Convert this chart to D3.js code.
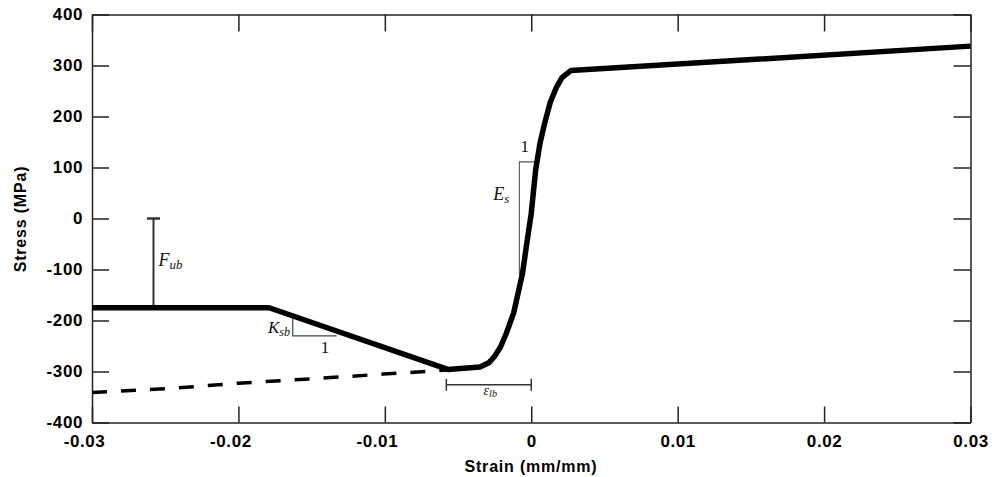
<!DOCTYPE html>
<html><head><meta charset="utf-8">
<script src="https://cdn.jsdelivr.net/npm/d3@7"></script>
<style>body{margin:0;background:#fff}svg{display:block}</style>
</head><body>
<svg id="c" width="992" height="477"></svg>
<script>
// ---- data ----
const xTicks = [-0.03, -0.02, -0.01, 0, 0.01, 0.02, 0.03];
const xTickLabels = ["-0.03", "-0.02", "-0.01", "0", "0.01", "0.02", "0.03"];
const yTicks = [-400, -300, -200, -100, 0, 100, 200, 300, 400];
const yTickLabels = ["-400", "-300", "-200", "-100", "0", "100", "200", "300", "400"];

const strainMain = [-0.03, -0.0179, -0.0057, -0.0035, -0.0029, -0.0025, -0.0021, -0.0017, -0.0012, -0.0006, -0.0003, 0.0000, 0.0003, 0.0006, 0.0009, 0.0013, 0.0017, 0.0021, 0.0027, 0.03];
const stressMain = [-175, -175, -296, -291, -283, -270, -252, -225, -185, -108, -48, 10, 95, 148, 185, 228, 256, 276, 290, 338];

const strainDash = [-0.03, -0.025, -0.02, -0.0137, -0.0101, -0.0071, -0.0058];
const stressDash = [-341, -334, -323, -312, -305, -300, -297];

// annotation anchors (strain, stress)
const fubLine = [[-0.0258, 0], [-0.0258, -175]];
const ksbTri = [[-0.01629, -191], [-0.01629, -230], [-0.0133, -230]];
const esTri = [[-0.00081, -111], [-0.00081, 111], [0.0004, 111]];
const elbBar = [[-0.0058, -326], [0.0, -326]];

// ---- layout ----
const svg = d3.select("#c");
const x = d3.scaleLinear().domain([-0.03, 0.03]).range([92, 970.5]);
const y = d3.scaleLinear().domain([-400, 400]).range([422.5, 14.5]);

const tickFont = "'Liberation Sans', Arial, sans-serif";
const serif = "'Liberation Serif', 'Times New Roman', serif";

function styleAxis(g) {
  g.selectAll("path.domain").attr("stroke", "#222").attr("stroke-width", 1.5);
  g.selectAll(".tick line").attr("stroke", "#222").attr("stroke-width", 1.5);
  g.selectAll(".tick text").attr("fill", "#000")
    .style("font-family", tickFont).style("font-weight", "bold")
    .style("font-size", "17px").style("letter-spacing", "0.6px");
}

const fmtX = d => xTickLabels[xTicks.indexOf(d)];
const fmtY = d => yTickLabels[yTicks.indexOf(d)];

const gB = svg.append("g").attr("transform", `translate(0,${y(-400)})`)
  .call(d3.axisBottom(x).tickValues(xTicks).tickFormat(fmtX).tickSizeInner(-16).tickSizeOuter(0).tickPadding(12));
styleAxis(gB);
gB.selectAll(".tick text").attr("dx", d => d < 0 ? -8 : 0);

const gT = svg.append("g").attr("transform", `translate(0,${y(400)})`)
  .call(d3.axisTop(x).tickValues(xTicks).tickFormat("").tickSizeInner(-17).tickSizeOuter(0));
styleAxis(gT);

const gL = svg.append("g").attr("transform", `translate(${x(-0.03)},0)`)
  .call(d3.axisLeft(y).tickValues(yTicks).tickFormat(fmtY).tickSizeInner(-17).tickSizeOuter(0).tickPadding(9));
styleAxis(gL);

const gR = svg.append("g").attr("transform", `translate(${x(0.03)},0)`)
  .call(d3.axisRight(y).tickValues(yTicks).tickFormat("").tickSizeInner(-17).tickSizeOuter(0));
styleAxis(gR);

// axis titles
svg.append("text").attr("x", 531).attr("y", 472).attr("text-anchor", "middle")
  .style("font-family", tickFont).style("font-weight", "bold").style("font-size", "16px").style("letter-spacing", "0.8px")
  .text("Strain (mm/mm)");
svg.append("text").attr("transform", "translate(26,219) rotate(-90)").attr("text-anchor", "middle")
  .style("font-family", tickFont).style("font-weight", "bold").style("font-size", "16px").style("letter-spacing", "0.8px")
  .text("Stress (MPa)");

// ---- curves ----
const line = d3.line().x(d => x(d[0])).y(d => y(d[1]));
const mainPts = strainMain.map((s, i) => [s, stressMain[i]]);
const dashPts = strainDash.map((s, i) => [s, stressDash[i]]);

svg.append("path").attr("d", line(dashPts)).attr("fill", "none").attr("stroke", "#000")
  .attr("stroke-width", 3.5).attr("stroke-dasharray", "15,14");

// annotation lines (thin)
svg.append("path").attr("d", line(fubLine)).attr("fill", "none").attr("stroke", "#333").attr("stroke-width", 2);
svg.append("line").attr("x1", x(fubLine[0][0]) - 6.5).attr("x2", x(fubLine[0][0]) + 6.5)
  .attr("y1", y(0)).attr("y2", y(0)).attr("stroke", "#333").attr("stroke-width", 2.5);
svg.append("path").attr("d", line(ksbTri)).attr("fill", "none").attr("stroke", "#444").attr("stroke-width", 1.2);
svg.append("path").attr("d", line(esTri)).attr("fill", "none").attr("stroke", "#555").attr("stroke-width", 1.1);
svg.append("path").attr("d", line(elbBar)).attr("fill", "none").attr("stroke", "#333").attr("stroke-width", 1.5);
elbBar.forEach(p => {
  svg.append("line").attr("x1", x(p[0])).attr("x2", x(p[0])).attr("y1", y(p[1]) - 6).attr("y2", y(p[1]) + 6)
    .attr("stroke", "#333").attr("stroke-width", 1.5);
});

svg.append("path").attr("d", line(mainPts)).attr("fill", "none").attr("stroke", "#000")
  .attr("stroke-width", 5.5).attr("stroke-linejoin", "round");

// ---- annotation labels ----
function subLabel(px, py, main, sub, size, anchor) {
  const t = svg.append("text").attr("x", px).attr("y", py).attr("text-anchor", anchor || "start")
    .style("font-family", serif).style("font-style", "italic").style("font-size", size + "px").attr("fill", "#111");
  t.append("tspan").text(main);
  t.append("tspan").attr("dy", size * 0.15).style("font-size", (size * 0.72) + "px").text(sub);
  return t;
}
subLabel(x(-0.0258) + 5, y(-93), "F", "ub", 18);
subLabel(x(-0.01646), y(-224.5), "K", "sb", 17, "end");
subLabel(x(-0.0026), y(36), "E", "s", 18);
subLabel(x(-0.0028), y(-346), "ε", "lb", 14, "middle");

svg.append("text").attr("x", x(-0.00045)).attr("y", y(130)).attr("text-anchor", "middle")
  .style("font-family", serif).style("font-size", "17px").attr("fill", "#111").text("1");
svg.append("text").attr("x", x(-0.01408)).attr("y", y(-264)).attr("text-anchor", "middle")
  .style("font-family", serif).style("font-size", "17px").attr("fill", "#111").text("1");
</script>
</body></html>
